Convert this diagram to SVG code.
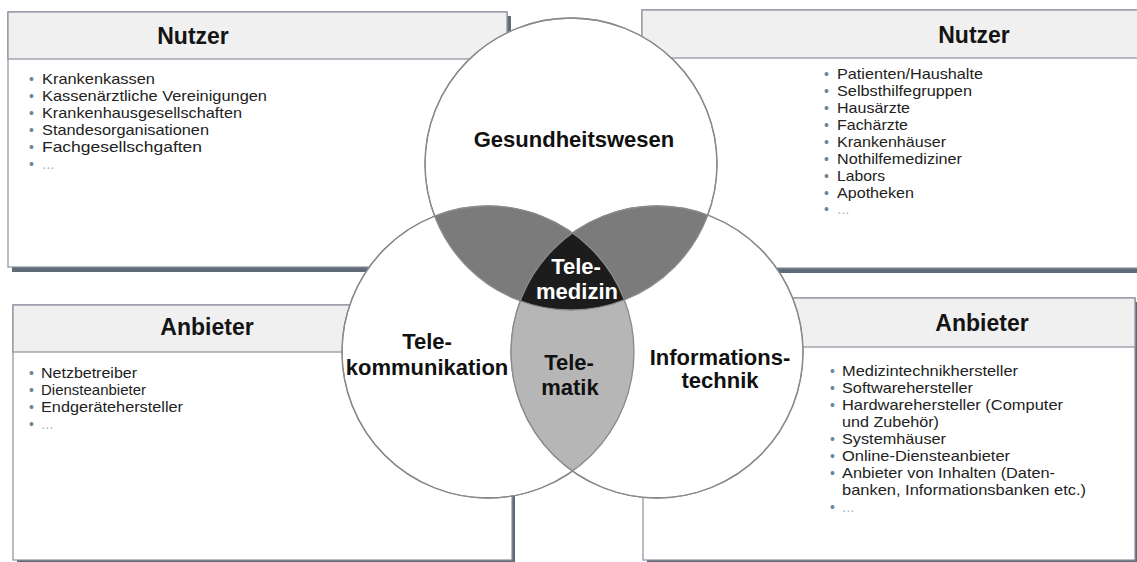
<svg xmlns="http://www.w3.org/2000/svg" width="1137" height="562" viewBox="0 0 1137 562">
<style>
.shadow{fill:#5f6b79}
.body{fill:#ffffff;stroke:#8b8f9c;stroke-width:1.2}
.head{fill:#f0f0f0;stroke:#8b8f9c;stroke-width:1.2}
.htxt{font-family:"Liberation Sans",Arial,sans-serif;font-weight:bold;font-size:23px;fill:#141414;text-anchor:middle}
.item{font-family:"Liberation Sans",Arial,sans-serif;font-size:15px;fill:#222222}
.bul{font-family:"Liberation Sans",Arial,sans-serif;font-size:14px;fill:#6f8597}
.ell{font-family:"Liberation Sans",Arial,sans-serif;font-size:15px;fill:#a7b8c8}
.circ{fill:#ffffff;stroke:#8a8a8a;stroke-width:1.3}
.outl{fill:none;stroke:#8a8a8a;stroke-width:1.3}
.ctxt{font-family:"Liberation Sans",Arial,sans-serif;font-weight:bold;font-size:22px;fill:#111111;text-anchor:middle}
.wtxt{font-family:"Liberation Sans",Arial,sans-serif;font-weight:bold;font-size:22px;fill:#ffffff;text-anchor:middle}
</style>

<g id="box-nutzer-links">
<rect class="shadow" x="12" y="16" width="499" height="256"/>
<rect class="body" x="8" y="12" width="499" height="255"/>
<rect class="head" x="8" y="12" width="499" height="47"/>
<text class="htxt" x="193" y="44">Nutzer</text>
<text class="bul" x="29" y="84">•</text><text class="item" x="42" y="84" textLength="113" lengthAdjust="spacingAndGlyphs">Krankenkassen</text>
<text class="bul" x="29" y="101">•</text><text class="item" x="42" y="101" textLength="225" lengthAdjust="spacingAndGlyphs">Kassenärztliche Vereinigungen</text>
<text class="bul" x="29" y="118">•</text><text class="item" x="42" y="118" textLength="200" lengthAdjust="spacingAndGlyphs">Krankenhausgesellschaften</text>
<text class="bul" x="29" y="135">•</text><text class="item" x="42" y="135" textLength="167" lengthAdjust="spacingAndGlyphs">Standesorganisationen</text>
<text class="bul" x="29" y="152">•</text><text class="item" x="42" y="152" textLength="160" lengthAdjust="spacingAndGlyphs">Fachgesellschgaften</text>
<text class="bul" x="29" y="169">•</text><text class="ell" x="42" y="169">...</text>
</g>

<g id="box-nutzer-rechts">
<rect class="shadow" x="646" y="14" width="500" height="259"/>
<rect class="body" x="642" y="10" width="500" height="258"/>
<rect class="head" x="642" y="10" width="500" height="48"/>
<text class="htxt" x="974" y="43">Nutzer</text>
<text class="bul" x="824" y="79">•</text><text class="item" x="837" y="79" textLength="146" lengthAdjust="spacingAndGlyphs">Patienten/Haushalte</text>
<text class="bul" x="824" y="96">•</text><text class="item" x="837" y="96" textLength="135" lengthAdjust="spacingAndGlyphs">Selbsthilfegruppen</text>
<text class="bul" x="824" y="113">•</text><text class="item" x="837" y="113" textLength="73" lengthAdjust="spacingAndGlyphs">Hausärzte</text>
<text class="bul" x="824" y="130">•</text><text class="item" x="837" y="130" textLength="71" lengthAdjust="spacingAndGlyphs">Fachärzte</text>
<text class="bul" x="824" y="147">•</text><text class="item" x="837" y="147" textLength="109" lengthAdjust="spacingAndGlyphs">Krankenhäuser</text>
<text class="bul" x="824" y="164">•</text><text class="item" x="837" y="164" textLength="125" lengthAdjust="spacingAndGlyphs">Nothilfemediziner</text>
<text class="bul" x="824" y="181">•</text><text class="item" x="837" y="181" textLength="48" lengthAdjust="spacingAndGlyphs">Labors</text>
<text class="bul" x="824" y="198">•</text><text class="item" x="837" y="198" textLength="77" lengthAdjust="spacingAndGlyphs">Apotheken</text>
<text class="bul" x="824" y="214">•</text><text class="ell" x="837" y="214">...</text>
</g>

<g id="box-anbieter-links">
<rect class="shadow" x="17" y="309" width="498" height="260"/>
<rect class="body" x="13" y="305" width="499" height="255"/>
<rect class="head" x="13" y="305" width="499" height="47"/>
<text class="htxt" x="207" y="335">Anbieter</text>
<text class="bul" x="29" y="378">•</text><text class="item" x="41" y="378" textLength="96" lengthAdjust="spacingAndGlyphs">Netzbetreiber</text>
<text class="bul" x="29" y="395">•</text><text class="item" x="41" y="395" textLength="105" lengthAdjust="spacingAndGlyphs">Diensteanbieter</text>
<text class="bul" x="29" y="412">•</text><text class="item" x="41" y="412" textLength="142" lengthAdjust="spacingAndGlyphs">Endgerätehersteller</text>
<text class="bul" x="29" y="429">•</text><text class="ell" x="41" y="429">...</text>
</g>

<g id="box-anbieter-rechts">
<rect class="shadow" x="647" y="302" width="492" height="266"/>
<rect class="body" x="643" y="298" width="492" height="262"/>
<rect class="head" x="643" y="298" width="492" height="49"/>
<text class="htxt" x="982" y="331">Anbieter</text>
<text class="bul" x="830" y="376">•</text><text class="item" x="842" y="376" textLength="176" lengthAdjust="spacingAndGlyphs">Medizintechnikhersteller</text>
<text class="bul" x="830" y="393">•</text><text class="item" x="842" y="393" textLength="131" lengthAdjust="spacingAndGlyphs">Softwarehersteller</text>
<text class="bul" x="830" y="410">•</text><text class="item" x="842" y="410" textLength="221" lengthAdjust="spacingAndGlyphs">Hardwarehersteller (Computer</text>
<text class="item" x="842" y="427" textLength="97" lengthAdjust="spacingAndGlyphs">und Zubehör)</text>
<text class="bul" x="830" y="444">•</text><text class="item" x="842" y="444" textLength="104" lengthAdjust="spacingAndGlyphs">Systemhäuser</text>
<text class="bul" x="830" y="461">•</text><text class="item" x="842" y="461" textLength="168" lengthAdjust="spacingAndGlyphs">Online-Diensteanbieter</text>
<text class="bul" x="830" y="478">•</text><text class="item" x="842" y="478" textLength="213" lengthAdjust="spacingAndGlyphs">Anbieter von Inhalten (Daten-</text>
<text class="item" x="842" y="495" textLength="244" lengthAdjust="spacingAndGlyphs">banken, Informationsbanken etc.)</text>
<text class="bul" x="830" y="512">•</text><text class="ell" x="842" y="512">...</text>
</g>

<g id="kreis-gesundheitswesen">
<circle class="circ" cx="571" cy="164" r="146"/>
</g>
<g id="kreis-telekommunikation">
<circle class="circ" cx="488" cy="352" r="146"/>
</g>
<g id="kreis-informationstechnik">
<circle class="circ" cx="657" cy="352" r="146"/>
</g>

<g id="schnittmengen">
<path fill="#7b7b7b" d="M434.6,216.1 A146,146 0 0 1 572.5,232.9 A146,146 0 0 0 520.2,300.9 A146,146 0 0 1 434.6,216.1 Z"/>
<path fill="#7b7b7b" d="M572.5,232.9 A146,146 0 0 1 707.8,215.1 A146,146 0 0 1 624.4,299.9 A146,146 0 0 0 572.5,232.9 Z"/>
<path fill="#b6b6b6" d="M520.2,300.9 A146,146 0 0 0 572.5,471.1 A146,146 0 0 0 624.4,299.9 A146,146 0 0 1 520.2,300.9 Z"/>
<path fill="#1c1c1c" d="M572.5,232.9 A146,146 0 0 1 624.4,299.9 A146,146 0 0 1 520.2,300.9 A146,146 0 0 1 572.5,232.9 Z"/>
<circle class="outl" cx="571" cy="164" r="146"/>
<circle class="outl" cx="488" cy="352" r="146"/>
<circle class="outl" cx="657" cy="352" r="146"/>
</g>

<g id="labels">
<text class="ctxt" x="574" y="147">Gesundheitswesen</text>
<text class="ctxt" x="427" y="349">Tele-</text>
<text class="ctxt" x="427" y="375">kommunikation</text>
<text class="ctxt" x="720" y="365">Informations-</text>
<text class="ctxt" x="720" y="388">technik</text>
<text class="wtxt" x="576" y="274">Tele-</text>
<text class="wtxt" x="577" y="299">medizin</text>
<text class="ctxt" x="569" y="370">Tele-</text>
<text class="ctxt" x="570" y="395">matik</text>
</g>
</svg>
